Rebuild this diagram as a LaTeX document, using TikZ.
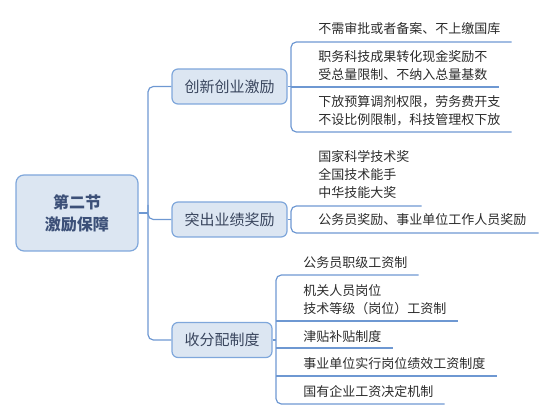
\documentclass[tikz,border=0pt]{standalone}
\usepackage{fontspec}
\setmainfont{Noto Sans CJK SC}
\usetikzlibrary{calc}
\definecolor{boxfill}{HTML}{DCE6F2}
\definecolor{boxdraw}{HTML}{7FA7DB}
\definecolor{linec}{HTML}{6E98D2}
\definecolor{rootc}{HTML}{3C5078}
\definecolor{branchc}{HTML}{3A465E}
\definecolor{leafc}{HTML}{2B2B2B}
\begin{document}
\begin{tikzpicture}[x=0.75pt,y=-0.75pt,
  rootbox/.style={draw=boxdraw, fill=boxfill, line width=0.9pt, rounded corners=6pt,
    minimum width=91.5pt, minimum height=57pt, inner sep=0pt, align=center,
    font=\fontsize{12}{16.5}\selectfont\bfseries, text=rootc},
  branchbox/.style={draw=boxdraw, fill=boxfill, line width=0.9pt, rounded corners=4.5pt,
    minimum height=26.25pt, inner sep=0pt,
    font=\fontsize{11.25}{14}\selectfont, text=branchc},
  leaf/.style={anchor=west, inner sep=0pt, align=left,
    font=\fontsize{9.75}{13.5}\selectfont, text=leafc},
  conn/.style={draw=linec, line width=0.9pt, rounded corners=4pt}]
\useasboundingbox (0,0) rectangle (554,420);

% root and branches
\node[rootbox] (root) at (77,213) {第二节\\激励保障};
\node[branchbox, minimum width=86.25pt] (b1) at (229.5,86.5) {创新创业激励};
\node[branchbox, minimum width=86.25pt] (b2) at (229.5,219.5) {突出业绩奖励};
\node[branchbox, minimum width=75pt] (b3) at (222,340) {收分配制度};

\coordinate (tk) at (148,213);
\coordinate (tj) at (148,205);
\draw[conn] (root.east) -- (root.east -| tk);
\draw[conn] (b1.west) -- (b1.west -| tk) -- (b3.west -| tk) -- (b3.west);
\draw[conn] (tj) -- (tj |- b2.west) -- (b2.west);

% branch 1 leaves
\node[leaf] (c11) at (318,29) {不需审批或者备案、不上缴国库};
\node[leaf] (c12) at (318,66) {职务科技成果转化现金奖励不\\受总量限制、不纳入总量基数};
\node[leaf] (c13) at (318,111) {下放预算调剂权限，劳务费开支\\不设比例限制，科技管理权下放};
\coordinate (u11) at (291,42);
\coordinate (u12) at (291,87);
\coordinate (u13) at (291,132);
\draw[conn] ($(u11 -| c11.east)+(11,0)$) -- (u11) -- (u13) -- ($(u13 -| c13.east)+(11,0)$);
\draw[conn] (u12) -- ($(u12 -| c12.east)+(11,0)$);
\draw[conn] (b1.east) -- (b1.east -| u12);

% branch 2 leaves
\node[leaf] (c21) at (318,174.5) {国家科学技术奖\\全国技术能手\\中华技能大奖};
\node[leaf] (c22) at (318,220) {公务员奖励、事业单位工作人员奖励};
\coordinate (u21) at (291,206);
\coordinate (u22) at (291,233);
\draw[conn] ($(u21 -| c21.east)+(12,0)$) -- (u21) -- (u22) -- ($(u22 -| c22.east)+(12,0)$);
\draw[conn] (b2.east) -- (b2.east -| u21);

% branch 3 leaves
\node[leaf] (c31) at (303,263) {公务员职级工资制};
\node[leaf] (c32) at (303,300) {机关人员岗位\\技术等级（岗位）工资制};
\node[leaf] (c33) at (303,337) {津贴补贴制度};
\node[leaf] (c34) at (303,364) {事业单位实行岗位绩效工资制度};
\node[leaf] (c35) at (303,392) {国有企业工资决定机制};
\coordinate (u31) at (276,275);
\coordinate (u32) at (276,321);
\coordinate (u33) at (276,348);
\coordinate (u34) at (276,376);
\coordinate (u35) at (276,404);
\draw[conn] ($(u31 -| c31.east)+(11,0)$) -- (u31) -- (u35) -- ($(u35 -| c35.east)+(11,0)$);
\draw[conn] (u32) -- ($(u32 -| c32.east)+(11,0)$);
\draw[conn] (u33) -- ($(u33 -| c33.east)+(11,0)$);
\draw[conn] (u34) -- ($(u34 -| c34.east)+(11,0)$);
\draw[conn] (b3.east) -- (b3.east -| u31);
\end{tikzpicture}
\end{document}
